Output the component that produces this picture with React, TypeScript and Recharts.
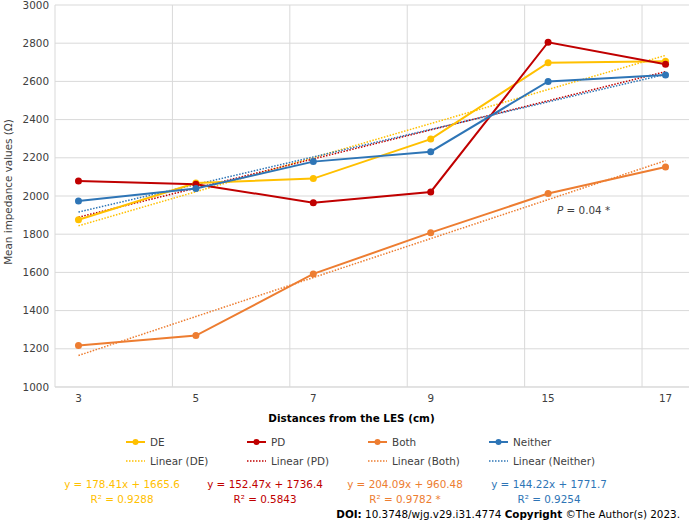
import React from "react";
import { LineChart, Line, XAxis, YAxis, CartesianGrid, ReferenceLine } from "recharts";

// x position of each measuring point (Excel plotted them as 1..6)
const xIndex = [1, 2, 3, 4, 5, 6];
const distanceLabels = ["3", "5", "7", "9", "15", "17"];

const deValues = [1876, 2068, 2091, 2298, 2698, 2705];
const pdValues = [2078, 2062, 1965, 2021, 2805, 2690];
const bothValues = [1217, 1269, 1592, 1808, 2013, 2152];
const neitherValues = [1974, 2039, 2180, 2232, 2600, 2634];

// linear trendline values at the first and last point
const deTrend = [1844, 2736];
const pdTrend = [1889, 2651];
const bothTrend = [1165, 2185];
const neitherTrend = [1916, 2637];

const yTicks = [1000, 1200, 1400, 1600, 1800, 2000, 2200, 2400, 2600, 2800, 3000];

const equations = [
  { eq: "y = 178.41x + 1665.6", r2: "R² = 0.9288" },
  { eq: "y = 152.47x + 1736.4", r2: "R² = 0.5843" },
  { eq: "y = 204.09x + 960.48", r2: "R² = 0.9782 *" },
  { eq: "y = 144.22x + 1771.7", r2: "R² = 0.9254" },
];

const seriesNames = ["DE", "PD", "Both", "Neither"];
const COLORS = ["#FFC000", "#C00000", "#ED7D31", "#2E75B6"];
const GRID = "#d9d9d9";
const FONT = "'DejaVu Sans', Verdana, sans-serif";
const FS = 10.4;

const last = xIndex.length - 1;
const trendAt = (t: number[], i: number) => (i === 0 ? t[0] : i === last ? t[1] : null);

const data = xIndex.map((x, i) => ({
  x,
  de: deValues[i],
  pd: pdValues[i],
  both: bothValues[i],
  neither: neitherValues[i],
  deT: trendAt(deTrend, i),
  pdT: trendAt(pdTrend, i),
  bothT: trendAt(bothTrend, i),
  neitherT: trendAt(neitherTrend, i),
}));

// vertical gridlines sit a bit before each point, like in the original
const gridX = xIndex.slice(1).map((x) => x - 0.2);

const keys = ["de", "pd", "both", "neither"];

function LegendItem({ color, label, dotted }: { color: string; label: string; dotted?: boolean }) {
  return (
    <div style={{ display: "flex", alignItems: "center", width: 121 }}>
      <svg width={19} height={8} style={{ marginRight: 5 }}>
        {dotted ? (
          <line x1={0} y1={4} x2={19} y2={4} stroke={color} strokeWidth={1.3} strokeDasharray="1.5 1.5" />
        ) : (
          <>
            <line x1={0} y1={4} x2={19} y2={4} stroke={color} strokeWidth={2} />
            <circle cx={9.5} cy={4} r={3} fill={color} />
          </>
        )}
      </svg>
      <span>{label}</span>
    </div>
  );
}

export default function App() {
  return (
    <div
      style={{
        position: "absolute",
        left: 0,
        top: 0,
        width: 690,
        height: 523,
        background: "#fff",
        fontFamily: FONT,
        fontSize: FS,
        color: "#404040",
      }}
    >
      <LineChart width={690} height={410} data={data} margin={{ top: 5, right: 1, left: 0, bottom: 0 }}>
        <CartesianGrid stroke={GRID} vertical={false} />
        {gridX.map((v) => (
          <ReferenceLine key={v} x={v} stroke={GRID} />
        ))}
        <XAxis
          type="number"
          dataKey="x"
          domain={[0.8, 6.2]}
          ticks={xIndex}
          tickFormatter={(v: number) => distanceLabels[v - 1]}
          axisLine={{ stroke: GRID }}
          tickLine={false}
          height={23}
          tick={{ fontSize: FS, fill: "#404040" }}
          allowDataOverflow
        />
        <YAxis
          domain={[1000, 3000]}
          ticks={yTicks}
          width={55}
          axisLine={{ stroke: GRID }}
          tickLine={false}
          tickSize={4}
          tickMargin={2}
          tick={{ fontSize: FS, fill: "#404040" }}
        />
        {keys.map((k, i) => (
          <Line
            key={k + "T"}
            dataKey={k + "T"}
            stroke={COLORS[i]}
            strokeWidth={1.5}
            strokeDasharray="1.5 1.5"
            dot={false}
            connectNulls
            isAnimationActive={false}
          />
        ))}
        {keys.map((k, i) => (
          <Line
            key={k}
            dataKey={k}
            stroke={COLORS[i]}
            strokeWidth={2}
            dot={{ r: 3.5, fill: COLORS[i], stroke: COLORS[i], strokeWidth: 0 }}
            isAnimationActive={false}
          />
        ))}
      </LineChart>

      {/* y-axis title */}
      <div
        style={{
          position: "absolute",
          left: 7.5,
          top: 192,
          transform: "translate(-50%, -50%) rotate(-90deg)",
          whiteSpace: "nowrap",
        }}
      >
        Mean impedance values (Ω)
      </div>

      {/* annotation */}
      <div style={{ position: "absolute", left: 557, top: 204, whiteSpace: "nowrap" }}>
        <i>P</i> = 0.04 *
      </div>

      {/* x-axis title */}
      <div
        style={{
          position: "absolute",
          left: 0,
          width: 703,
          top: 412,
          textAlign: "center",
          fontWeight: "bold",
          color: "#000",
        }}
      >
        Distances from the LES (cm)
      </div>

      {/* legend */}
      <div style={{ position: "absolute", left: 126, top: 436, display: "flex" }}>
        {seriesNames.map((n, i) => (
          <LegendItem key={n} color={COLORS[i]} label={n} />
        ))}
      </div>
      <div style={{ position: "absolute", left: 126, top: 455, display: "flex" }}>
        {seriesNames.map((n, i) => (
          <LegendItem key={n} color={COLORS[i]} label={`Linear (${n})`} dotted />
        ))}
      </div>

      {/* trendline equations */}
      {equations.map((e, i) => (
        <div
          key={e.eq}
          style={{
            position: "absolute",
            left: [122, 265, 405, 549][i] - 70,
            width: 140,
            top: 477,
            textAlign: "center",
            color: COLORS[i],
            lineHeight: "14.7px",
            whiteSpace: "nowrap",
          }}
        >
          <div>{e.eq}</div>
          <div>{e.r2}</div>
        </div>
      ))}

      <div style={{ position: "absolute", right: 10, top: 508, color: "#000", whiteSpace: "nowrap" }}>
        <b>DOI:</b> 10.3748/wjg.v29.i31.4774 <b>Copyright</b> ©The Author(s) 2023.
      </div>
    </div>
  );
}
